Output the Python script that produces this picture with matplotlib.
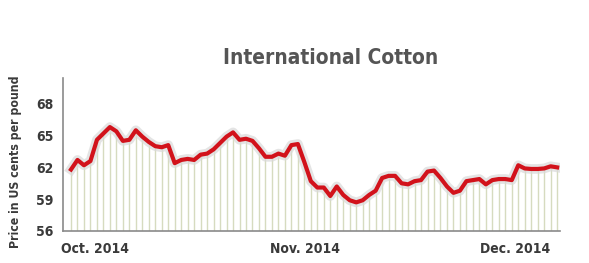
import matplotlib
matplotlib.use("Agg")
import matplotlib.pyplot as plt
import matplotlib.patheffects as pe
import numpy as np

title = "International Cotton"
ylabel = "Price in US cents per pound"
month_labels = ["Oct. 2014", "Nov. 2014", "Dec. 2014"]
month_positions = [3.7, 36.1, 68.5]
y_ticks = [56, 59, 62, 65, 68]

prices = [
    61.8, 62.7, 62.2, 62.6, 64.6, 65.2, 65.8, 65.4, 64.5, 64.6,
    65.5, 64.9, 64.4, 64.0, 63.9, 64.1, 62.4, 62.7, 62.8, 62.7,
    63.2, 63.3, 63.7, 64.3, 64.9, 65.3, 64.6, 64.7, 64.5, 63.8,
    63.0, 63.0, 63.3, 63.1, 64.1, 64.2, 62.5, 60.7, 60.1, 60.1,
    59.3, 60.2, 59.4, 58.9, 58.7, 58.9, 59.4, 59.8, 61.0, 61.2,
    61.2, 60.5, 60.4, 60.7, 60.8, 61.6, 61.7, 61.0, 60.2, 59.6,
    59.8, 60.7, 60.8, 60.9, 60.4, 60.8, 60.9, 60.9, 60.8, 62.2,
    61.9, 61.85, 61.85, 61.9, 62.1, 62.0,
]

x = np.arange(len(prices))
y0 = y_ticks[0]

fig = plt.figure(figsize=(5.89, 2.63), dpi=100)
ax = fig.add_axes([0.107, 0.1217, 0.844, 0.5817])

ax.vlines(x, y0, prices, color="#d6dbbf", linewidth=1.0, zorder=1)
ax.plot(x, prices, color="#d2121b", linewidth=3.0, solid_joinstyle="round",
        zorder=3,
        path_effects=[pe.Stroke(linewidth=7, foreground="#d9d9d9", alpha=0.7),
                      pe.Normal()])

ax.set_xlim(-1.23, 75.46)
ax.set_ylim(56, 70.43)

for s in ["top", "right"]:
    ax.spines[s].set_visible(False)
for s in ["left", "bottom"]:
    ax.spines[s].set_color("#8a8a8a")
    ax.spines[s].set_linewidth(1.2)

fam = ["DejaVu Sans"]
fp_tick = dict(family=fam, fontweight="bold", fontstretch="condensed",
               fontsize=10, color="#3a3a3a")
ax.set_yticks(y_ticks)
ax.set_yticklabels([str(v) for v in y_ticks], **fp_tick)
ax.set_xticks(month_positions)
ax.set_xticklabels(month_labels, **fp_tick)
ax.tick_params(axis="both", length=0)
ax.tick_params(axis="y", pad=7)
ax.tick_params(axis="x", pad=8)

fig.text(0.026, 0.385, ylabel, rotation=90, ha="center", va="center",
         family=fam, fontweight="bold", fontstretch="condensed", fontsize=8.8,
         color="#3a3a3a")
fig.text(0.561, 0.78, title, ha="center", va="center", family=fam,
         fontweight="bold", fontstretch="condensed", fontsize=15,
         color="#555555")

fig.savefig("out.png", dpi=100, facecolor="white")
